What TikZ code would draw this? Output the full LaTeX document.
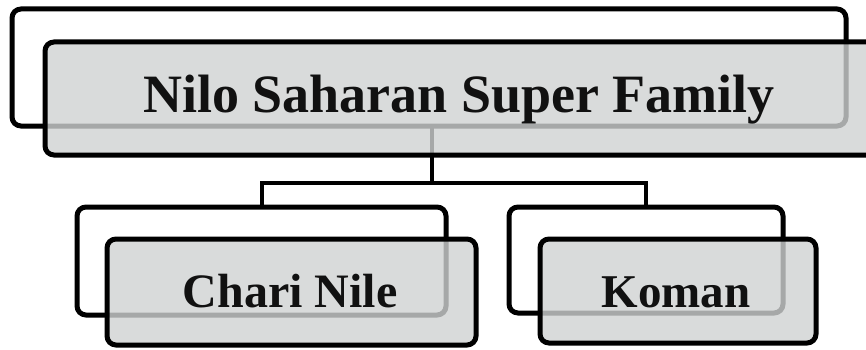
\documentclass[tikz,border=0pt]{standalone}
\usepackage{fontspec}
\setmainfont{Liberation Serif}
\usetikzlibrary{shadows}
\definecolor{boxgray}{HTML}{D0D2D2}
\definecolor{txt}{HTML}{111111}
\tikzset{
  backbox/.style={draw=black, line width=5pt, rounded corners=9pt, fill=white,
    rectangle, inner sep=0pt, outer sep=0pt,
    drop shadow={opacity=0.25, shadow xshift=2pt, shadow yshift=-2pt}},
  frontbox/.style={draw=black, line width=5pt, rounded corners=9pt, fill=boxgray, fill opacity=0.8,
    rectangle, inner sep=0pt, outer sep=0pt},
  conn/.style={draw=black, line width=4pt},
  lbl/.style={text=txt, font=\bfseries, inner sep=0pt, anchor=base}
}
\begin{document}
\begin{tikzpicture}[x=1pt,y=-1pt]
\useasboundingbox (0,0) rectangle (866,350);
\clip (0,0) rectangle (866,350);
% back boxes
\node[backbox, minimum width=834pt, minimum height=117pt] (topb) at (429,67.5) {};
\node[backbox, minimum width=369pt, minimum height=108pt] (chb) at (261.5,261) {};
\node[backbox, minimum width=274pt, minimum height=106pt] (kob) at (646,260) {};
\coordinate (hub) at (432,183);
% connectors
\draw[conn] (topb.south -| hub) -- (hub);
\draw[conn] (chb.north) |- (hub) -| (kob.north);
% front boxes
\node[frontbox, minimum width=855pt, minimum height=113pt] (topf) at (472.5,98.5) {};
\node[frontbox, minimum width=369pt, minimum height=106pt] (chf) at (291.5,292) {};
\node[frontbox, minimum width=276pt, minimum height=104pt] (kof) at (678,291) {};
% labels
\node[lbl, font=\bfseries\fontsize{54}{60}\selectfont] (t) at (459,113) {Nilo Saharan Super Family};
\node[lbl, font=\bfseries\fontsize{48}{56}\selectfont] (c) at (290,307) {Chari Nile};
\node[lbl, font=\bfseries\fontsize{47}{56}\selectfont] (k) at (676,307) {Koman};
\end{tikzpicture}
\end{document}
